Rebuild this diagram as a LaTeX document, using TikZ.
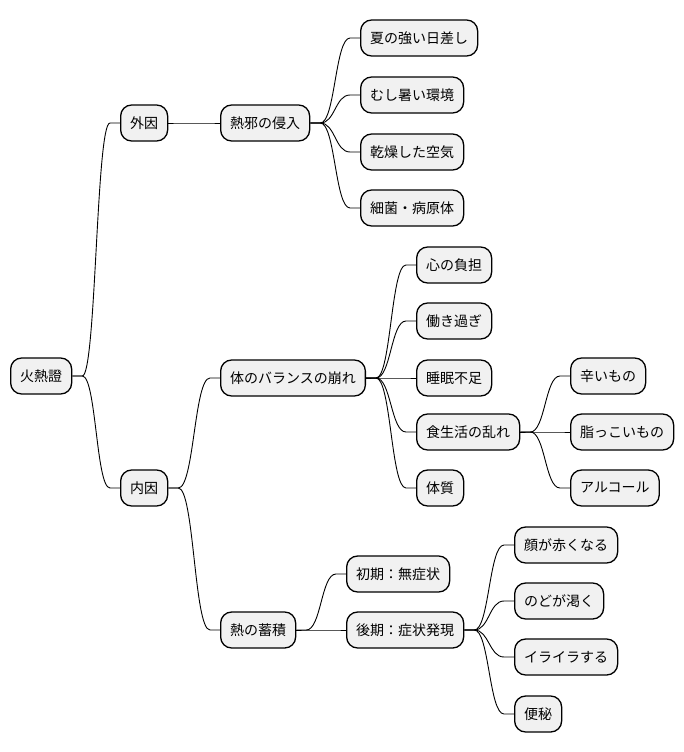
\documentclass[tikz,border=0pt]{standalone}
\usepackage{fontspec}
\setmainfont{Noto Sans CJK JP}
\usetikzlibrary{calc}
\tikzset{
  mm/.style={draw=black, line width=1.3pt, fill={rgb,255:red,241;green,241;blue,241},
    rounded corners=11pt, anchor=west, minimum height=36pt, inner xsep=9.5pt, inner ysep=0pt,
    font=\fontsize{14}{16}\selectfont},
  link/.style={draw=black, line width=0.9pt}
}
\newcommand{\mmconn}[2]{%
  \path (#1.east) ++(10pt,0) coordinate (cA);
  \path (#2.west) ++(-10pt,0) coordinate (cB);
  \draw[link] let \p1=(cA), \p2=(cB) in (#1.east) -- (cA)
    .. controls ({(\x1+\x2)/2},\y1) and ({(\x1+\x2)/2},\y2) .. (cB) -- (#2.west);
}
\begin{document}
\begin{tikzpicture}[x=1pt,y=-1pt]
\useasboundingbox (0,0) rectangle (684,752);
\node[mm] (root) at (10,376) {火熱證};
\node[mm] (gai) at (120,123) {外因};
\node[mm] (nai) at (120,488) {内因};
\node[mm] (jaki) at (220,123) {熱邪の侵入};
\node[mm] (a1) at (360,38) {夏の強い日差し};
\node[mm] (a2) at (360,95) {むし暑い環境};
\node[mm] (a3) at (360,152) {乾燥した空気};
\node[mm] (a4) at (360,208) {細菌・病原体};
\node[mm] (bal) at (220,378) {体のバランスの崩れ};
\node[mm] (b1) at (416,265) {心の負担};
\node[mm] (b2) at (416,321) {働き過ぎ};
\node[mm] (b3) at (416,378) {睡眠不足};
\node[mm] (b4) at (416,432) {食生活の乱れ};
\node[mm] (b5) at (416,488) {体質};
\node[mm] (c1) at (570,376) {辛いもの};
\node[mm] (c2) at (570,432) {脂っこいもの};
\node[mm] (c3) at (570,488) {アルコール};
\node[mm] (tik) at (220,630) {熱の蓄積};
\node[mm] (d1) at (346,574) {初期：無症状};
\node[mm] (d2) at (346,630) {後期：症状発現};
\node[mm] (e1) at (514,545) {顔が赤くなる};
\node[mm] (e2) at (514,601) {のどが渇く};
\node[mm] (e3) at (514,657) {イライラする};
\node[mm] (e4) at (514,714) {便秘};
\mmconn{root}{gai}
\mmconn{root}{nai}
\mmconn{gai}{jaki}
\mmconn{jaki}{a1}
\mmconn{jaki}{a2}
\mmconn{jaki}{a3}
\mmconn{jaki}{a4}
\mmconn{nai}{bal}
\mmconn{nai}{tik}
\mmconn{bal}{b1}
\mmconn{bal}{b2}
\mmconn{bal}{b3}
\mmconn{bal}{b4}
\mmconn{bal}{b5}
\mmconn{b4}{c1}
\mmconn{b4}{c2}
\mmconn{b4}{c3}
\mmconn{tik}{d1}
\mmconn{tik}{d2}
\mmconn{d2}{e1}
\mmconn{d2}{e2}
\mmconn{d2}{e3}
\mmconn{d2}{e4}
\end{tikzpicture}
\end{document}
